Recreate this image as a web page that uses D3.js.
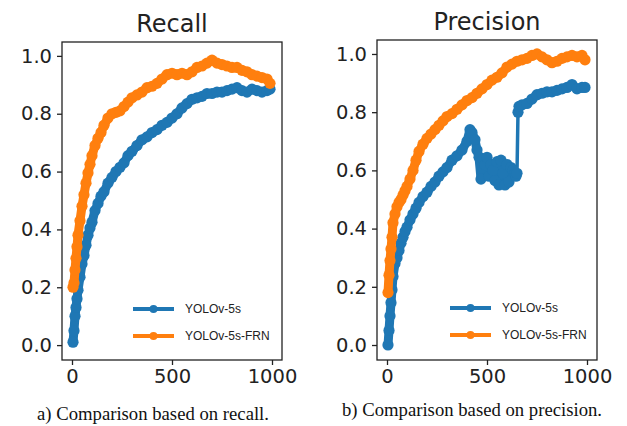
<!doctype html>
<html>
<head>
<script src="https://cdn.jsdelivr.net/npm/d3@7"></script>
<style type="text/css">
  body { margin: 0; background: #fff; }
  svg { display: block; }
  .tick text { font-family: "DejaVu Sans", sans-serif; font-size: 19.5px; fill: #222; }
  .tick line { stroke: #222; stroke-width: 1.3px; }
  .title { font-family: "DejaVu Sans", sans-serif; font-size: 24px; fill: #222; }
  .caption { font-family: "Liberation Serif", "Times New Roman", serif; font-size: 18.7px; fill: #111; }
  .legend text { font-family: "Liberation Sans", Arial, sans-serif; font-size: 12px; fill: #222; }
</style>
</head>
<body>
<svg width="627" height="426"></svg>

<script type="text/javascript">

// epochs shared by recall series and by the FRN precision series
var epochs = [5,10,15,20,25,30,40,50,60,70,80,90,100,115,130,145,160,180,200,220,240,260,280,300,
              325,350,375,400,425,450,475,500,525,550,575,600,625,650,675,700,725,750,775,800,
              825,850,875,900,925,950,975,990];

var recallBase = [0.01,0.05,0.10,0.13,0.16,0.19,0.235,0.28,0.31,0.345,0.38,0.405,0.425,0.465,0.49,0.515,0.53,0.56,0.58,0.60,
                  0.615,0.63,0.655,0.67,0.69,0.71,0.72,0.735,0.745,0.76,0.77,0.785,0.80,0.82,0.835,0.85,0.855,0.86,0.87,0.87,
                  0.875,0.875,0.88,0.885,0.89,0.88,0.875,0.885,0.88,0.875,0.88,0.885];

var recallFrn = [0.20,0.215,0.26,0.30,0.34,0.38,0.43,0.48,0.52,0.56,0.595,0.625,0.655,0.69,0.715,0.735,0.76,0.785,0.80,0.805,
                 0.81,0.825,0.84,0.855,0.865,0.875,0.89,0.895,0.905,0.92,0.935,0.94,0.935,0.94,0.935,0.945,0.96,0.965,0.975,0.985,
                 0.975,0.97,0.965,0.96,0.96,0.95,0.945,0.935,0.93,0.925,0.92,0.905];

var precisionFrn = [0.18,0.24,0.29,0.33,0.37,0.42,0.45,0.475,0.49,0.50,0.515,0.53,0.545,0.57,0.60,0.635,0.665,0.69,0.71,0.725,
                    0.74,0.755,0.77,0.785,0.795,0.81,0.825,0.84,0.85,0.865,0.88,0.895,0.91,0.92,0.935,0.955,0.965,0.975,0.98,0.985,
                    0.995,1.0,0.99,0.98,0.97,0.975,0.985,0.99,0.995,0.99,0.995,0.98];

// baseline precision has its own, denser epochs around the unstable stretch
var precEpochsBase = [5,10,15,20,25,30,40,50,60,70,80,90,100,115,130,145,160,180,200,220,240,260,280,300,325,350,375,400,
                      415,425,440,450,460,470,480,490,500,510,520,530,540,550,560,570,580,590,600,610,620,630,640,645,650,
                      655,660,675,700,725,750,775,800,825,850,875,900,925,950,975,990];

var precisionBase = [0.0,0.05,0.10,0.145,0.19,0.235,0.28,0.30,0.325,0.35,0.37,0.39,0.405,0.43,0.45,0.47,0.49,0.51,0.525,0.545,
                     0.56,0.58,0.595,0.61,0.635,0.65,0.67,0.70,0.74,0.73,0.705,0.67,0.645,0.57,0.64,0.62,0.645,0.58,0.62,0.60,
                     0.565,0.63,0.55,0.635,0.59,0.55,0.62,0.56,0.61,0.60,0.59,0.58,0.59,0.80,0.82,0.825,0.83,0.845,0.86,0.865,
                     0.87,0.87,0.875,0.88,0.885,0.895,0.88,0.885,0.885];

var yTicks = [0.0, 0.2, 0.4, 0.6, 0.8, 1.0];
var xTicks = [0, 500, 1000];
var seriesNames = ["YOLOv-5s", "YOLOv-5s-FRN"];
var colors = ["#1f77b4", "#ff7f0e"];

var svg = d3.select("svg");

function drawPanel(p) {
  var xScale = d3.scaleLinear().domain([-50, 1050]).range([p.left, p.right]);
  var yScale = d3.scaleLinear().domain([-0.0515, 1.048]).range([p.bottom, p.top]);

  var g = svg.append("g");

  var xAxis = d3.axisBottom(xScale).tickValues(xTicks).tickSize(5).tickPadding(4)
                .tickFormat(d3.format("d"));
  g.append("g").attr("transform", "translate(0," + p.bottom + ")").call(xAxis);

  var yAxis = d3.axisLeft(yScale).tickValues(yTicks).tickSize(5).tickPadding(5)
                .tickFormat(d3.format(".1f"));
  g.append("g").attr("transform", "translate(" + p.left + ",0)").call(yAxis);

  g.selectAll("path.domain").remove();

  var line = d3.line()
               .x(function(d) { return xScale(d[0]); })
               .y(function(d) { return yScale(d[1]); });

  p.series.forEach(function(s, i) {
    var pts = d3.zip(s.x, s.y);
    // thin connecting line
    g.append("path")
     .datum(pts)
     .attr("d", line)
     .attr("fill", "none")
     .attr("stroke", colors[i])
     .attr("stroke-width", 3.5);
    // dense overlapping markers form a thick band; break it over big jumps
    var segs = [[pts[0]]];
    for (var k = 1; k < pts.length; k++) {
      if (Math.abs(pts[k][1] - pts[k - 1][1]) > 0.1) segs.push([]);
      segs[segs.length - 1].push(pts[k]);
    }
    g.append("g").selectAll("path")
     .data(segs)
     .enter()
     .append("path")
     .attr("d", line)
     .attr("fill", "none")
     .attr("stroke", colors[i])
     .attr("stroke-width", 9)
     .attr("stroke-linejoin", "round")
     .attr("stroke-linecap", "round");
    g.append("g")
     .selectAll("circle")
     .data(pts)
     .enter()
     .append("circle")
     .attr("r", 5.6)
     .attr("cx", function(d) { return xScale(d[0]); })
     .attr("cy", function(d) { return yScale(d[1]); })
     .attr("fill", colors[i]);
  });

  // spines
  g.append("rect")
   .attr("x", p.left).attr("y", p.top)
   .attr("width", p.right - p.left).attr("height", p.bottom - p.top)
   .attr("fill", "none").attr("stroke", "#222").attr("stroke-width", 1.3);

  g.append("text").attr("class", "title")
   .attr("x", (p.left + p.right) / 2).attr("y", p.titleY)
   .attr("text-anchor", "middle").text(p.title);

  var leg = g.append("g").attr("class", "legend");
  seriesNames.forEach(function(name, i) {
    var ly = p.legendY + i * 27;
    leg.append("line")
       .attr("x1", p.legendX).attr("x2", p.legendX + 41)
       .attr("y1", ly).attr("y2", ly)
       .attr("stroke", colors[i]).attr("stroke-width", 4);
    leg.append("circle")
       .attr("cx", p.legendX + 20.5).attr("cy", ly).attr("r", 4)
       .attr("fill", colors[i]);
    leg.append("text")
       .attr("x", p.legendX + 52).attr("y", ly + 4)
       .text(name);
  });

  svg.append("text").attr("class", "caption")
     .attr("x", p.captionX).attr("y", p.captionY)
     .attr("text-anchor", "middle").text(p.caption);
}

drawPanel({
  left: 62, right: 282, top: 42, bottom: 360,
  title: "Recall", titleY: 32,
  legendX: 133, legendY: 309,
  caption: "a) Comparison based on recall.", captionX: 153, captionY: 420,
  series: [{x: epochs, y: recallBase}, {x: epochs, y: recallFrn}]
});

drawPanel({
  left: 377, right: 597, top: 40, bottom: 360,
  title: "Precision", titleY: 30,
  legendX: 450, legendY: 308,
  caption: "b) Comparison based on precision.", captionX: 472, captionY: 416,
  series: [{x: precEpochsBase, y: precisionBase}, {x: epochs, y: precisionFrn}]
});

</script>
</body>
</html>
